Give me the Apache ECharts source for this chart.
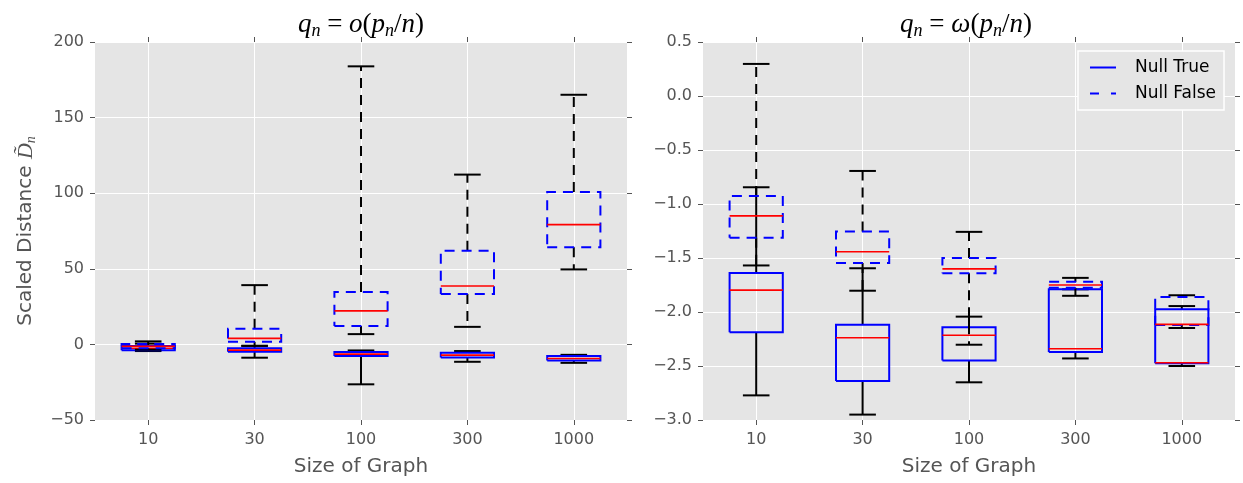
<!DOCTYPE html>
<html><head><meta charset="utf-8">
<script src="https://cdn.jsdelivr.net/npm/echarts@6/dist/echarts.min.js"></script>
<style>html,body{margin:0;padding:0;background:#fff}#c{width:1243px;height:483px}</style>
</head><body><div id="c"></div>
<script>
const categories = ['10', '30', '100', '300', '1000'];
// each row: [lower whisker, Q1, median, Q3, upper whisker]
const leftNullTrue = [
  [-4.4, -3.8, -2.5, -1.0, 0.5],
  [-8.8, -4.9, -3.8, -2.6, -1.0],
  [-26.4, -7.7, -6.4, -5.1, -4.0],
  [-11.5, -8.6, -7.1, -5.5, -4.4],
  [-12.2, -10.6, -9.3, -7.7, -6.9]
];
const leftNullFalse = [
  [-3.5, -2.5, -1.2, 0.3, 2.0],
  [-0.9, 1.7, 4.0, 10.3, 39.2],
  [6.8, 12.1, 22.2, 34.6, 183.9],
  [11.6, 33.3, 38.6, 62.0, 112.3],
  [49.6, 64.2, 79.2, 100.8, 165.1]
];
const rightNullTrue = [
  [-2.772, -2.188, -1.797, -1.640, -0.845],
  [-2.950, -2.639, -2.239, -2.119, -1.595],
  [-2.651, -2.450, -2.215, -2.141, -2.043],
  [-2.430, -2.370, -2.340, -1.790, -1.790],
  [-2.500, -2.475, -2.470, -1.975, -1.945]
];
const rightNullFalse = [
  [-1.569, -1.313, -1.110, -0.925, 0.297],
  [-1.803, -1.546, -1.442, -1.254, -0.694],
  [-2.303, -1.641, -1.601, -1.501, -1.258],
  [-1.850, -1.776, -1.750, -1.721, -1.684],
  [-2.148, -2.120, -2.115, -1.862, -1.845]
];
const leftTitle = '{i|q}{s|n}{r| = }{i|o}{r|(}{i|p}{s|n}{r|/}{i|n}{r|)}';
const rightTitle = '{i|q}{s|n}{r| = }{i|ω}{r|(}{i|p}{s|n}{r|/}{i|n}{r|)}';

const GREY = '#555555';
const BLUE = '#0000ff';
const DASH = [10, 7];

function toData(rows) { return rows.map((r, i) => [i].concat(r)); }

function boxRenderer(dashed) {
  return function (params, api) {
    const i = api.value(0);
    const x = api.coord([i, api.value(3)])[0];
    const y = k => api.coord([i, api.value(k)])[1];
    const yLo = y(1), yQ1 = y(2), yMed = y(3), yQ3 = y(4), yHi = y(5);
    const band = api.size([1, 0])[0];
    const hb = band * 0.25, hc = band * 0.125;
    const wStyle = { stroke: '#000', lineWidth: 2, fill: null };
    const bStyle = { stroke: BLUE, lineWidth: 2, fill: null };
    if (dashed) { wStyle.lineDash = DASH; bStyle.lineDash = DASH; }
    return {
      type: 'group',
      children: [
        { type: 'line', shape: { x1: x, y1: yQ1, x2: x, y2: yLo }, style: wStyle },
        { type: 'line', shape: { x1: x, y1: yQ3, x2: x, y2: yHi }, style: wStyle },
        { type: 'line', shape: { x1: x - hc, y1: yLo, x2: x + hc, y2: yLo }, style: { stroke: '#000', lineWidth: 2 } },
        { type: 'line', shape: { x1: x - hc, y1: yHi, x2: x + hc, y2: yHi }, style: { stroke: '#000', lineWidth: 2 } },
        { type: 'polyline', shape: { points: [[x - hb, yQ1], [x + hb, yQ1], [x + hb, yQ3], [x - hb, yQ3], [x - hb, yQ1]] }, style: bStyle },
        { type: 'line', shape: { x1: x - hb, y1: yMed, x2: x + hb, y2: yMed }, style: { stroke: '#ff0000', lineWidth: 1.6 } }
      ]
    };
  };
}

function bottomX(gi) {
  return {
    gridIndex: gi, type: 'category', data: categories, position: 'bottom',
    name: 'Size of Graph', nameLocation: 'middle', nameGap: 37,
    nameTextStyle: { fontSize: 20, color: GREY, fontFamily: 'DejaVu Sans' },
    axisLine: { show: false, onZero: false },
    axisTick: { show: true, alignWithLabel: true, length: 5, lineStyle: { color: GREY } },
    axisLabel: { fontSize: 16, color: GREY, margin: 12, fontFamily: 'DejaVu Sans' },
    splitLine: { show: true, alignWithLabel: true, lineStyle: { color: '#ffffff', width: 1 } }
  };
}
function topX(gi) {
  return {
    gridIndex: gi, type: 'category', data: categories, position: 'top',
    axisLine: { show: false, onZero: false },
    axisTick: { show: true, alignWithLabel: true, length: 5, lineStyle: { color: GREY } },
    axisLabel: { show: false }, splitLine: { show: false }
  };
}
function leftY(gi, min, max, interval, fmt, name) {
  const ax = {
    gridIndex: gi, type: 'value', min: min, max: max, interval: interval, position: 'left',
    axisLine: { show: false, onZero: false },
    axisTick: { show: true, length: 5, lineStyle: { color: GREY } },
    axisLabel: { fontSize: 16, color: GREY, margin: 11, fontFamily: 'DejaVu Sans', formatter: fmt },
    splitLine: { show: true, lineStyle: { color: '#ffffff', width: 1 } }
  };
  if (name) {
    ax.name = name; ax.nameLocation = 'middle'; ax.nameGap = 57; ax.nameRotate = 90;
    ax.nameTextStyle = {
      color: GREY, fontSize: 20, fontFamily: 'DejaVu Sans',
      rich: {
        t: { fontSize: 20, color: GREY, fontFamily: 'DejaVu Sans' },
        m: { fontSize: 22, color: GREY, fontFamily: 'Liberation Serif', fontStyle: 'italic' },
        s: { fontSize: 14, color: GREY, fontFamily: 'Liberation Serif', fontStyle: 'italic', padding: [10, 0, 0, 0] }
      }
    };
  }
  return ax;
}
function rightY(gi, min, max, interval) {
  return {
    gridIndex: gi, type: 'value', min: min, max: max, interval: interval, position: 'right',
    axisLine: { show: false, onZero: false },
    axisTick: { show: true, length: 5, lineStyle: { color: GREY } },
    axisLabel: { show: false }, splitLine: { show: false }
  };
}
const fmtInt = v => String(v).replace('-', '\u2212');
const fmtDec = v => v.toFixed(1).replace('-', '\u2212');

const titleRich = {
  i: { fontFamily: 'Liberation Serif', fontStyle: 'italic', fontSize: 27, fill: '#000' },
  r: { fontFamily: 'Liberation Serif', fontSize: 27, fill: '#000' },
  s: { fontFamily: 'Liberation Serif', fontStyle: 'italic', fontSize: 18, fill: '#000', padding: [13, 0, 0, 0] }
};

function mkSeries(name, rows, xi, yi, dashed) {
  return {
    name: name, type: 'custom', coordinateSystem: 'cartesian2d',
    xAxisIndex: xi, yAxisIndex: yi,
    itemStyle: { color: BLUE },
    encode: { x: 0, y: [1, 2, 3, 4, 5] },
    renderItem: boxRenderer(dashed),
    data: toData(rows)
  };
}

const chart = echarts.init(document.getElementById('c'), null, { renderer: 'canvas' });
chart.setOption({
  animation: false,
  backgroundColor: '#ffffff',
  grid: [
    { left: 95, right: 616, top: 42, bottom: 63, show: true, backgroundColor: '#e5e5e5', borderWidth: 0 },
    { left: 703, right: 8, top: 42, bottom: 63, show: true, backgroundColor: '#e5e5e5', borderWidth: 0 }
  ],
  xAxis: [bottomX(0), topX(0), bottomX(1), topX(1)],
  yAxis: [
    leftY(0, -50, 200, 50, fmtInt, '{t|Scaled Distance }{m|D\u0303}{s|n}'),
    rightY(0, -50, 200, 50),
    leftY(1, -3, 0.5, 0.5, fmtDec, null),
    rightY(1, -3, 0.5, 0.5)
  ],
  legend: {
    left: 1078, top: 51, orient: 'vertical',
    backgroundColor: '#e5e5e5', borderColor: '#ffffff', borderWidth: 1.5, borderRadius: 0,
    padding: [8, 8, 8, 12], itemWidth: 26, itemHeight: 2, itemGap: 9,
    selectedMode: false,
    textStyle: { fontSize: 17, color: '#000', fontFamily: 'DejaVu Sans', padding: [0, 0, 0, 14] },
    data: [
      { name: 'Null True', icon: 'rect', itemStyle: { color: BLUE, borderWidth: 0 } },
      { name: 'Null False', icon: 'path://M0,0h9v2h-9zM21,0h5v2h-5z', itemStyle: { color: BLUE, borderWidth: 0 } }
    ]
  },
  graphic: [
    { type: 'text', x: 361, y: 25, style: { text: leftTitle, rich: titleRich, align: 'center', verticalAlign: 'middle' } },
    { type: 'text', x: 966, y: 25, style: { text: rightTitle, rich: titleRich, align: 'center', verticalAlign: 'middle' } }
  ],
  series: [
    mkSeries('Null True', leftNullTrue, 0, 0, false),
    mkSeries('Null False', leftNullFalse, 0, 0, true),
    mkSeries('Null True', rightNullTrue, 2, 2, false),
    mkSeries('Null False', rightNullFalse, 2, 2, true)
  ]
});
</script>
</body></html>
